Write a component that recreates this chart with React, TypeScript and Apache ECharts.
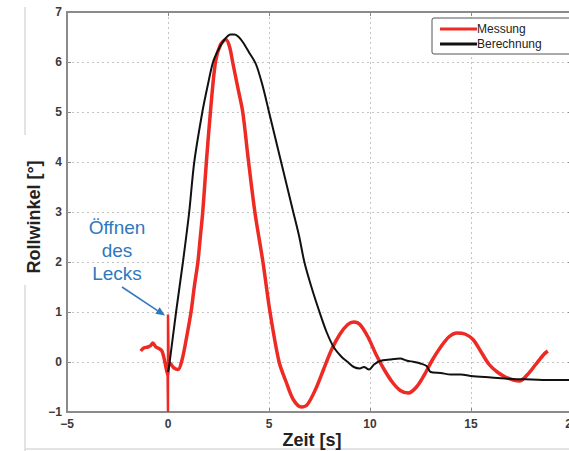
import React, { useEffect, useRef } from "react";
import * as echarts from "echarts";

const xTicks = { min: -5, max: 20, interval: 5 };
const yTicks = { min: -1, max: 7, interval: 1 };
const seriesNames = ["Messung", "Berechnung"];
const seriesColors = ["#ee2a24", "#111111"];

const messungZeit = [
  -1.35, -1.2, -1.0, -0.85, -0.75, -0.6, -0.45, -0.3, -0.18, -0.08, -0.02, 0.03, 0.15, 0.3, 0.5,
  0.7, 0.9, 1.14, 1.3, 1.48, 1.6, 1.72, 1.9, 2.1, 2.35, 2.6, 2.87, 3.05, 3.2, 3.45, 3.7, 3.96, 4.3,
  4.7, 5.05, 5.5, 5.85, 6.2, 6.6, 6.9, 7.3, 7.7, 8.1, 8.5, 8.9, 9.2, 9.5, 9.9, 10.3, 10.7, 11.1,
  11.5, 11.9, 12.3, 12.7, 13.1, 13.5, 13.9, 14.3, 14.7, 15.1, 15.5, 15.9, 16.3, 16.7, 17.1, 17.4,
  17.8, 18.2, 18.6, 18.8,
];
const messungWinkel = [
  0.22, 0.28, 0.3, 0.33, 0.38, 0.3, 0.27, 0.22, 0.05, -0.15, -0.25, 0.0, -0.05, -0.12, -0.15,
  0.05, 0.45, 1.0, 1.5, 2.0, 2.5, 3.0, 4.0, 5.0, 6.0, 6.35, 6.45, 6.3, 6.0, 5.5, 5.0, 4.1, 3.0,
  2.0, 1.0, 0.0, -0.4, -0.75, -0.9, -0.85, -0.55, -0.15, 0.25, 0.55, 0.75, 0.8, 0.75, 0.5, 0.15, -0.15, -0.4,
  -0.57, -0.62, -0.5, -0.25, 0.05, 0.3, 0.5, 0.58, 0.56, 0.45, 0.2, -0.05, -0.2, -0.3, -0.36, -0.38,
  -0.25, -0.05, 0.15, 0.22,
];
// the sharp spike when the leak opens
const spikeZeit = [-0.02, 0, 0, 0.03];
const spikeWinkel = [-0.25, -1.0, 0.95, 0.0];

const berechnungZeit = [
  0, 0.05, 0.4, 0.74, 1.05, 1.3, 1.7, 1.95, 2.23, 2.5, 2.8, 3.1, 3.3, 3.5, 3.7, 4.0, 4.36, 4.7, 5.0,
  5.3, 5.6, 5.9, 6.2, 6.5, 6.75, 7.1, 7.5, 7.85, 8.2, 8.6, 8.9, 9.2, 9.5, 9.7, 9.95, 10.2, 10.5, 11.0,
  11.5, 11.8, 12.2, 12.5, 12.8, 13.0, 13.5, 14.0, 14.5, 15, 16, 17, 18, 19, 20,
];
const berechnungWinkel = [
  -0.2, -0.1, 1.0, 2.0, 3.0, 4.0, 5.0, 5.5, 6.0, 6.25, 6.45, 6.55, 6.55, 6.5, 6.4, 6.2, 5.95, 5.5, 5.0,
  4.5, 4.0, 3.5, 3.0, 2.5, 2.0, 1.5, 1.0, 0.6, 0.3, 0.1, 0.0, -0.1, -0.13, -0.1, -0.15, -0.05, 0.02, 0.05,
  0.07, 0.03, 0.0, -0.03, -0.08, -0.2, -0.22, -0.25, -0.25, -0.28, -0.31, -0.34, -0.35, -0.36, -0.36,
];

const annotationLines = ["Öffnen", "des", "Lecks"];
const leakPoint = [0, 0.95];

const pairs = (xs: number[], ys: number[]) => xs.map((x, i) => [x, ys[i]]);
const fmt = (v: number) => String(v).replace("-", "\u2212");

export default function App() {
  const ref = useRef<HTMLDivElement>(null);
  useEffect(() => {
    if (!ref.current) return;
    const chart = echarts.init(ref.current, null, { renderer: "svg" });
    const axisLine = { show: true, onZero: false, lineStyle: { color: "#8a8a8a", width: 2 } };
    const axisTick = { show: true, inside: true, length: 4, lineStyle: { color: "#8a8a8a", width: 1 } };
    const splitLine = { show: true, lineStyle: { color: "#c4c4c4", width: 1, type: [2, 3] as any } };
    const labelStyle = {
      color: "#3a3a3a",
      fontSize: 12,
      fontWeight: "bold" as const,
      fontFamily: "Liberation Sans, Arial, sans-serif",
      formatter: (v: number) => fmt(v),
    };
    chart.setOption({
      animation: false,
      backgroundColor: "#ffffff",
      grid: { left: 67, top: 12, width: 505, height: 400, containLabel: false, outerBoundsMode: "none" },
      xAxis: [
        {
          type: "value", ...xTicks, axisLine, axisTick, splitLine,
          axisLabel: { ...labelStyle, margin: 6 },
        },
        {
          type: "value", position: "top", ...xTicks, axisLine, axisTick,
          splitLine: { show: false }, axisLabel: { show: false },
        },
      ],
      yAxis: [
        {
          type: "value", ...yTicks, axisLine, axisTick, splitLine,
          axisLabel: { ...labelStyle, margin: 5 },
        },
        {
          type: "value", position: "right", ...yTicks, axisLine, axisTick,
          splitLine: { show: false }, axisLabel: { show: false },
        },
      ],
      legend: {
        orient: "vertical",
        left: 432,
        top: 18,
        padding: [5, 32, 4, 8],
        itemGap: 3,
        itemWidth: 37,
        itemHeight: 3,
        icon: "rect",
        backgroundColor: "#ffffff",
        borderColor: "#555555",
        borderWidth: 1,
        borderRadius: 2,
        textStyle: { color: "#222", fontSize: 12, fontFamily: "Liberation Sans, Arial, sans-serif", padding: [0, 0, 0, -5] },
        data: seriesNames,
      },
      series: [
        {
          name: seriesNames[0], type: "line", showSymbol: false, symbol: "none", smooth: 0.3,
          data: pairs(messungZeit, messungWinkel),
          lineStyle: { color: seriesColors[0], width: 3.5 }, itemStyle: { color: seriesColors[0] }, z: 3,
        },
        {
          name: seriesNames[0], type: "line", showSymbol: false, symbol: "none",
          data: pairs(spikeZeit, spikeWinkel),
          lineStyle: { color: seriesColors[0], width: 2.5 }, itemStyle: { color: seriesColors[0] }, z: 3,
        },
        {
          name: seriesNames[1], type: "line", showSymbol: false, symbol: "none", smooth: 0.3,
          data: pairs(berechnungZeit, berechnungWinkel),
          lineStyle: { color: seriesColors[1], width: 2 }, itemStyle: { color: seriesColors[1] }, z: 4,
        },
      ],
    });
    const tip = chart.convertToPixel({ gridIndex: 0 }, leakPoint) as number[];
    const tx = tip[0] - 3;
    const ty = tip[1] + 1;
    const sx = 122;
    const sy = 287;
    const ang = Math.atan2(ty - sy, tx - sx);
    const hl = 9;
    const hw = 4;
    const bx = tx - hl * Math.cos(ang);
    const by = ty - hl * Math.sin(ang);
    const blue = "#2f78bd";
    chart.setOption({
      graphic: [
        { type: "line", silent: true, shape: { x1: 25, y1: 7, x2: 25, y2: 135 }, style: { stroke: "#c8c8c8", lineWidth: 1 } },
        { type: "line", silent: true, shape: { x1: 25, y1: 285, x2: 25, y2: 451 }, style: { stroke: "#c8c8c8", lineWidth: 1 } },
        { type: "line", silent: true, shape: { x1: 25, y1: 449, x2: 569, y2: 449 }, style: { stroke: "#c8c8c8", lineWidth: 1 } },
        {
          type: "text", x: 34, y: 217, rotation: Math.PI / 2,
          style: { text: "Rollwinkel [°]", fill: "#222", font: "bold 18px Liberation Sans, Arial, sans-serif", align: "center", verticalAlign: "middle" },
        },
        {
          type: "text", x: 312, y: 440,
          style: { text: "Zeit [s]", fill: "#222", font: "bold 18px Liberation Sans, Arial, sans-serif", align: "center", verticalAlign: "middle" },
        },
        ...annotationLines.map((t, i) => ({
          type: "text", x: 117, y: 227 + i * 23,
          style: { text: t, fill: blue, font: "19px Liberation Sans, Arial, sans-serif", align: "center", verticalAlign: "middle" },
        })),
        { type: "line", silent: true, shape: { x1: sx, y1: sy, x2: bx, y2: by }, style: { stroke: blue, lineWidth: 1.5 } },
        {
          type: "polygon", silent: true,
          shape: {
            points: [
              [tx, ty],
              [bx + hw * Math.sin(ang), by - hw * Math.cos(ang)],
              [bx - hw * Math.sin(ang), by + hw * Math.cos(ang)],
            ],
          },
          style: { fill: blue },
        },
      ],
    });
    return () => chart.dispose();
  }, []);
  return <div ref={ref} style={{ position: "fixed", left: 0, top: 0, width: 569, height: 451 }} />;
}
